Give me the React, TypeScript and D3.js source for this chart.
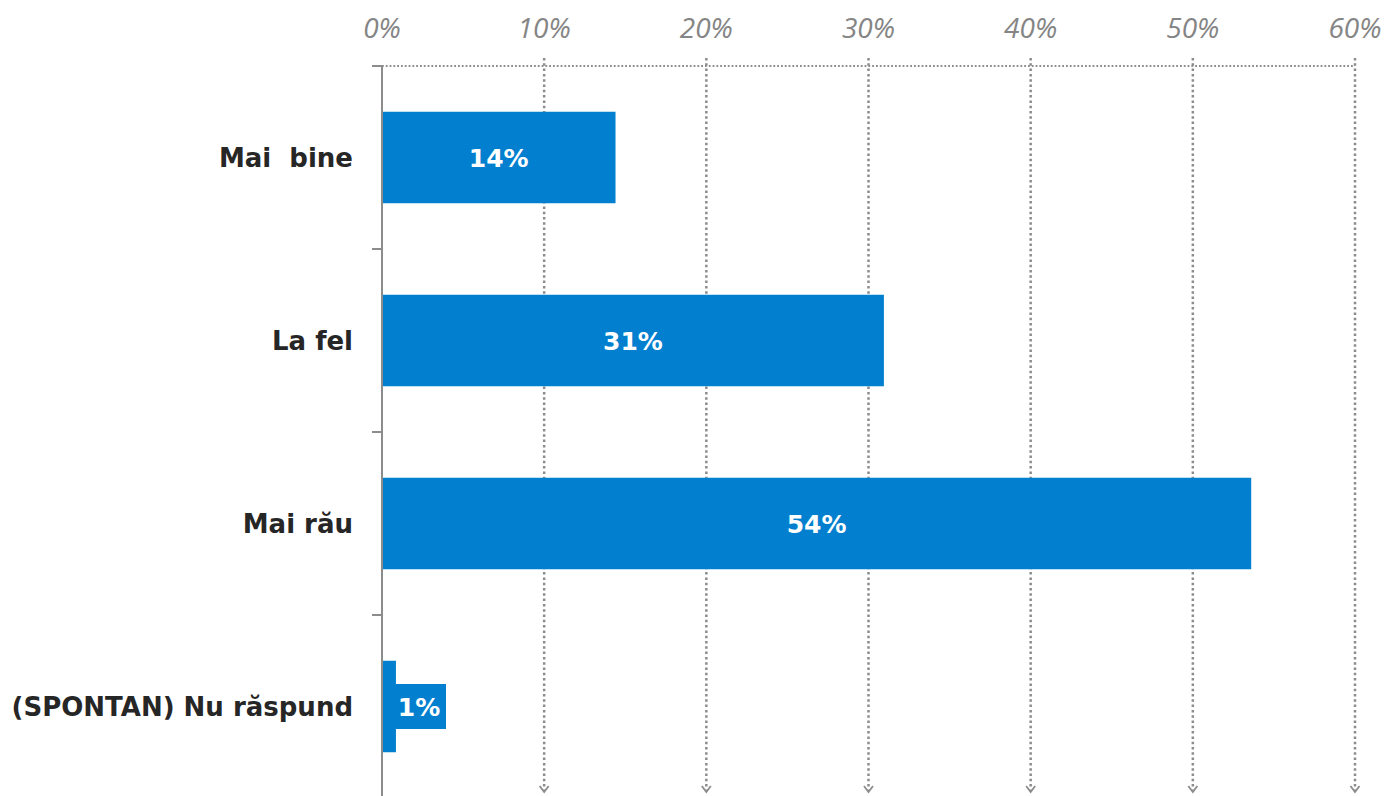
import React from "react";
import * as d3 from "d3";

const categories = ["Mai  bine", "La fel", "Mai rău", "(SPONTAN) Nu răspund"];
const values = [14.4, 30.95, 53.6, 0.86];
const valueLabels = ["14%", "31%", "54%", "1%"];
const tickValues = [0, 10, 20, 30, 40, 50, 60];

export default function App() {
  const W = 1389, H = 796;
  const left = 382, right = 1355, top = 66, bottom = 798;
  const x = d3.scaleLinear().domain([0, 60]).range([left, right]);
  const y = d3.scaleBand().domain(categories).range([top, bottom]).paddingInner(0.5).paddingOuter(0.25);
  const blue = "#0280CF";
  const grey = "#8C8C8C";
  const bandStep = y.step();
  const tickYs = d3.range(categories.length + 1).map(i => top + i * bandStep);
  return (
    <svg width={W} height={H} style={{ position: "absolute", left: 0, top: 0, display: "block" }}>
      {tickValues.map(t => (
        <g key={t}>
          <text x={x(t)} y={38} textAnchor="middle" fontFamily="'Open Sans', sans-serif" fontStyle="italic" fontSize={28} fill="#858585">{t}%</text>
          {t > 0 && (
            <>
              <line x1={x(t)} x2={x(t)} y1={58} y2={791} stroke={grey} strokeWidth={2.5} strokeDasharray="2.5 2.8" />
              <path d={`M${x(t) - 4.5},${786} L${x(t)},${792} L${x(t) + 4.5},${786}`} fill="none" stroke={grey} strokeWidth={1.8} />
            </>
          )}
        </g>
      ))}
      <line x1={left} x2={right} y1={top} y2={top} stroke={grey} strokeWidth={1.8} strokeDasharray="1.8 2" />
      {categories.map((c, i) => {
        const by = y(c)!;
        const bh = y.bandwidth();
        const cy = by + bh / 2;
        const small = values[i] < 3;
        return (
          <g key={c}>
            <rect x={x(0)} y={by} width={x(values[i]) - x(0)} height={bh} fill={blue} />
            {small && <rect x={x(0)} y={cy - 22.5} width={64} height={45} fill={blue} />}
            <text x={small ? x(0) + 37 : (x(0) + x(values[i])) / 2} y={cy} dy="0.36em" textAnchor="middle"
              fontFamily="DejaVu Sans, sans-serif" fontWeight="bold" fontSize={25} fill="#fff">{valueLabels[i]}</text>
            <text x={353} y={cy} dy="0.36em" textAnchor="end" fontFamily="DejaVu Sans, sans-serif" fontWeight="bold"
              fontSize={26} fill="#262626" style={{ whiteSpace: "pre" }}>{c}</text>
          </g>
        );
      })}
      <line x1={left} x2={left} y1={top} y2={H} stroke={grey} strokeWidth={2} />
      {tickYs.map((ty, i) => (
        <line key={i} x1={372} x2={left} y1={ty} y2={ty} stroke={grey} strokeWidth={2} />
      ))}
    </svg>
  );
}
